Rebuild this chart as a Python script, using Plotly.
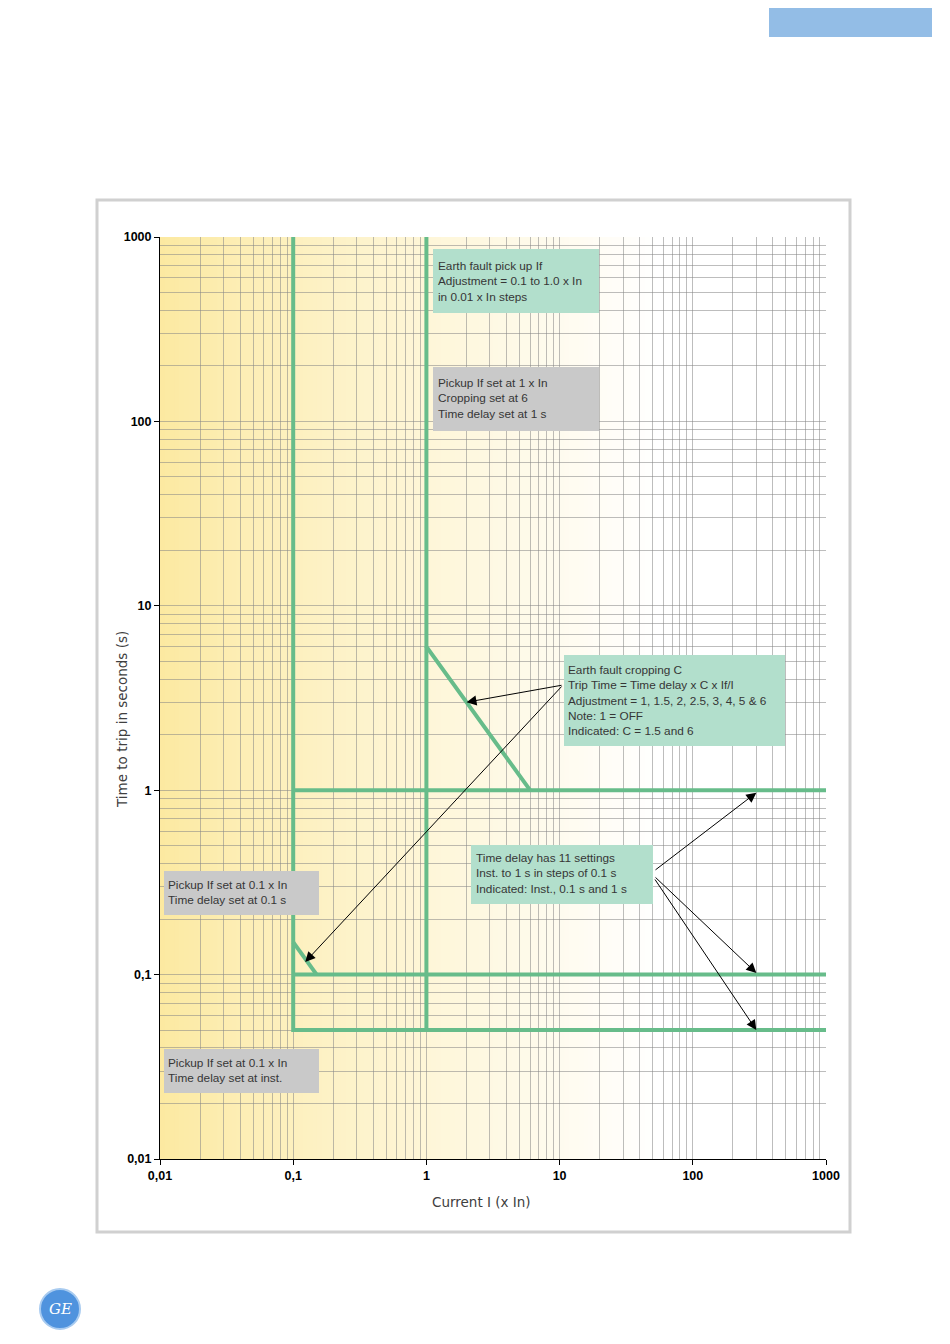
import math
import plotly.graph_objects as go

# ---------------- data ----------------
x_tick_vals = [0.01, 0.1, 1, 10, 100, 1000]
x_tick_text = ["0,01", "0,1", "1", "10", "100", "1000"]
y_tick_vals = [0.01, 0.1, 1, 10, 100, 1000]
y_tick_text = ["0,01", "0,1", "1", "10", "100", "1000"]

# Pickup If = 0.1 x In, time delay inst.
inst_x = [0.1, 0.1, 1000]
inst_y = [1000, 0.05, 0.05]
# Pickup If = 0.1 x In, time delay 0.1 s (C = 1)
d01_x = [0.1, 1000]
d01_y = [0.1, 0.1]
# Pickup If = 0.1 x In, time delay 0.1 s, cropping C = 1.5
c15_x = [0.1, 0.15]
c15_y = [0.15, 0.1]
# Pickup If = 0.1 x In, time delay 1 s
d1_x = [0.1, 1000]
d1_y = [1, 1]
# Pickup If = 1 x In, cropping C = 6, time delay 1 s
c6_x = [1, 1, 6]
c6_y = [1000, 6, 1]
# Pickup If = 1 x In, lower (inst.) part
if1_x = [1, 1]
if1_y = [6, 0.05]

curves = [(inst_x, inst_y), (d01_x, d01_y), (c15_x, c15_y),
          (d1_x, d1_y), (c6_x, c6_y), (if1_x, if1_y)]

# arrow targets (data values)
crop_arrow_x = [2, 0.123]
crop_arrow_y = [3, 0.117]
delay_arrow_x = [300, 300, 300]
delay_arrow_y = [0.97, 0.102, 0.05]

box_texts = [
    "Earth fault pick up If<br>Adjustment = 0.1 to 1.0 x In<br>in 0.01 x In steps",
    "Pickup If set at 1 x In<br>Cropping set at 6<br>Time delay set at 1 s",
    "Earth fault cropping C<br>Trip Time = Time delay x C x If/I<br>Adjustment = 1, 1.5, 2, 2.5, 3, 4, 5 &amp; 6<br>Note: 1 = OFF<br>Indicated: C = 1.5 and 6",
    "Time delay has 11 settings<br>Inst. to 1 s in steps of 0.1 s<br>Indicated: Inst., 0.1 s and 1 s",
    "Pickup If set at 0.1 x In<br>Time delay set at 0.1 s",
    "Pickup If set at 0.1 x In<br>Time delay set at inst.",
]

# ---------------- layout helpers ----------------
# page body has an 8px margin: shift figure so the plot lands at the reference spot
OFF = 8
W, H = 950 - 2 * OFF, 1344 - 2 * OFF
L, R, T, B = 160, 826, 237, 1159          # plot area in page pixels
XMIN, XMAX, YMIN, YMAX = -2, 3, -2, 3


def pxx(p):
    return (p - L) / (R - L)


def pxy(p):
    return (B - p) / (B - T)


def d2px_x(v):
    return L + (math.log10(v) - XMIN) / (XMAX - XMIN) * (R - L)


def d2px_y(v):
    return B - (math.log10(v) - YMIN) / (YMAX - YMIN) * (B - T)


GREEN = "#67BC8A"
BOX_GREEN = "#B2DFCC"
BOX_GREY = "#C9C9C9"
TXT = "#363636"
FONT = "Liberation Sans, Arial, sans-serif"
TITLE_FONT = "DejaVu Sans, Liberation Sans, sans-serif"

fig = go.Figure()
for cx, cy in curves:
    fig.add_trace(go.Scatter(x=cx, y=cy, mode="lines",
                             line=dict(color=GREEN, width=4),
                             showlegend=False, hoverinfo="skip"))

shapes = []
# background gradient (yellow -> white) in plot area
N = 140
Y0 = (252, 233, 160)
for i in range(N):
    t0 = i / N
    t1 = (i + 1) / N
    tm = (t0 + t1) / 2
    w = min(1.0, tm / 0.75) ** 0.85
    c = tuple(round(Y0[k] + (255 - Y0[k]) * w) for k in range(3))
    shapes.append(dict(type="rect", xref="paper", yref="paper",
                       x0=t0, x1=t1 + 0.002, y0=0, y1=1,
                       fillcolor="rgb(%d,%d,%d)" % c, line=dict(width=0),
                       layer="below"))

# outer frame
shapes.append(dict(type="rect", xref="paper", yref="paper",
                   x0=pxx(97), x1=pxx(850), y0=pxy(1232), y1=pxy(200),
                   line=dict(color="#D0D0D0", width=3), fillcolor="rgba(0,0,0,0)",
                   layer="below"))
# blue header tab
shapes.append(dict(type="rect", xref="paper", yref="paper",
                   x0=pxx(769), x1=pxx(932), y0=pxy(37), y1=pxy(2),
                   line=dict(width=0), fillcolor="#93BDE6", layer="below"))
# GE logo circle
shapes.append(dict(type="circle", xref="paper", yref="paper",
                   x0=pxx(40), x1=pxx(80), y0=pxy(1329), y1=pxy(1289),
                   line=dict(color="#A8CBF0", width=2), fillcolor="#4F93DE"))

# annotation boxes: (left, top, right, bottom) in page px, color
boxes = [
    ((433, 249, 599, 313), BOX_GREEN),
    ((433, 367, 599, 431), BOX_GREY),
    ((564, 655, 785, 746), BOX_GREEN),
    ((471, 845, 653, 904), BOX_GREEN),
    ((164, 871, 319, 915), BOX_GREY),
    ((164, 1049, 319, 1093), BOX_GREY),
]
text_centers = [281, 398, 700, 873.5, 892, 1070.5]
text_left = [439, 439, 569, 477, 169, 169]

annotations = []
for (bx, col), txt, cy, tl in zip(boxes, box_texts, text_centers, text_left):
    l, t, r, b = bx
    shapes.append(dict(type="rect", xref="paper", yref="paper",
                       x0=pxx(l), x1=pxx(r), y0=pxy(b), y1=pxy(t),
                       fillcolor=col, line=dict(width=0), layer="above"))
    annotations.append(dict(xref="paper", yref="paper", x=pxx(tl - 3), y=pxy(cy),
                            xanchor="left", yanchor="middle", align="left",
                            text=txt, showarrow=False,
                            font=dict(family=FONT, size=11.8, color=TXT)))

# arrows
crop_tail = (563, 685)
for ax_, ay_ in zip(crop_arrow_x, crop_arrow_y):
    tx, ty = d2px_x(ax_), d2px_y(ay_)
    annotations.append(dict(x=math.log10(ax_), y=math.log10(ay_), xref="x", yref="y",
                            ax=crop_tail[0] - tx, ay=crop_tail[1] - ty,
                            showarrow=True, arrowhead=2, arrowsize=2,
                            arrowwidth=1, arrowcolor="black", text="", standoff=0))
delay_tails = [(654, 871), (654, 876), (654, 878)]
for (ax_, ay_), tail in zip(zip(delay_arrow_x, delay_arrow_y), delay_tails):
    tx, ty = d2px_x(ax_), d2px_y(ay_)
    annotations.append(dict(x=math.log10(ax_), y=math.log10(ay_), xref="x", yref="y",
                            ax=tail[0] - tx, ay=tail[1] - ty,
                            showarrow=True, arrowhead=2, arrowsize=2,
                            arrowwidth=1, arrowcolor="black", text="", standoff=0))

# axis titles
annotations.append(dict(xref="paper", yref="paper", x=pxx(481), y=pxy(1202),
                        text="Current I (x In)", showarrow=False,
                        xanchor="center", yanchor="middle",
                        font=dict(family=TITLE_FONT, size=13.5, color="#404040")))
annotations.append(dict(xref="paper", yref="paper", x=pxx(122), y=pxy(720),
                        text="Time to trip in seconds (s)", showarrow=False,
                        textangle=-90, xanchor="center", yanchor="middle",
                        font=dict(family=TITLE_FONT, size=13.5, color="#404040")))
# GE logo text
annotations.append(dict(xref="paper", yref="paper", x=pxx(60), y=pxy(1309),
                        text="<i>GE</i>", showarrow=False,
                        xanchor="center", yanchor="middle",
                        font=dict(family="DejaVu Serif, serif", size=15, color="white")))

minor_vals = [m * 10 ** e for e in range(-2, 3) for m in range(2, 10)]
GRID = "rgba(135,135,135,0.55)"

axis_common = dict(
    type="log", ticks="outside", ticklen=5, tickcolor="black", tickwidth=1,
    showline=True, linecolor="black", linewidth=1, mirror=False,
    showgrid=True, gridcolor=GRID, gridwidth=1.3, zeroline=False,
    tickfont=dict(family=FONT, size=12.5, color="black", weight="bold"),
    minor=dict(tickvals=minor_vals, showgrid=True, gridcolor=GRID, gridwidth=1.3,
               ticks=""),
)

fig.update_layout(
    width=W, height=H, autosize=False,
    margin=dict(l=L - OFF, r=W - (R - OFF), t=T - OFF, b=H - (B - OFF), pad=0),
    paper_bgcolor="white", plot_bgcolor="rgba(0,0,0,0)",
    xaxis=dict(axis_common, range=[XMIN, XMAX], tickmode="array",
               tickvals=x_tick_vals, ticktext=x_tick_text),
    yaxis=dict(axis_common, range=[YMIN, YMAX], tickmode="array",
               tickvals=y_tick_vals, ticktext=y_tick_text),
    shapes=shapes, annotations=annotations, showlegend=False,
)

fig.write_html("out.html")
